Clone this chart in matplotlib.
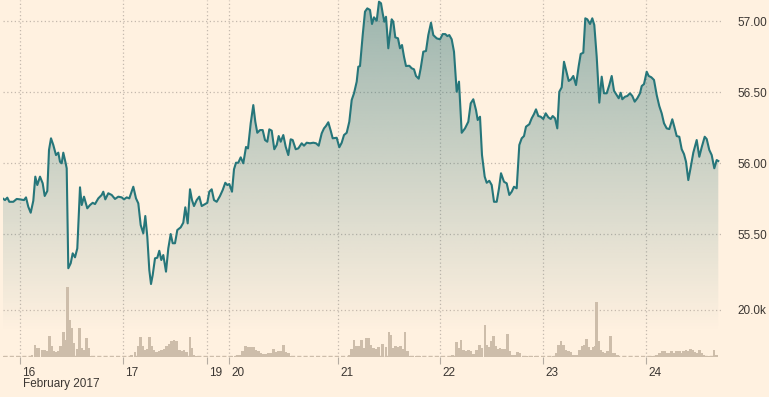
import numpy as np
import matplotlib
matplotlib.use("Agg")
import matplotlib.pyplot as plt
from matplotlib.transforms import ScaledTranslation
from matplotlib.patches import Polygon

# ---------------- data ----------------
# trading-time position (compressed intraday axis) and price
t = [2.7, 5, 7.3, 9.3, 13.3, 16.7, 20, 24, 26, 28.3, 30.7, 33.3, 35.3, 37.3, 40, 42.7, 44.7, 47.3,
     49, 51, 53.3, 56, 58.3, 60, 61.7, 63.3, 65.7, 66.7, 68.3, 70.7, 72.7, 75, 77.3, 80, 81.7, 84,
     87.3, 90, 92.7, 95, 98.3, 101.7, 103.3, 105.3, 108.3, 111.7, 115, 118.3, 121.7, 124,
     126.7, 129.3, 133.3, 136, 138.3, 140.7, 143.3, 145.3, 147.3, 149.3, 151, 152.7, 155, 157.3,
     159.3, 161.3, 163.3, 166, 168.3, 170.7, 172.7, 175, 177.3, 180.7, 183.3, 185.3, 187.7, 190,
     192, 194, 196.7, 199.3, 201.7, 205, 207.3, 209.3, 211.7, 214, 216.7, 220, 222.7, 225.3, 227.3,
     229.3, 232, 234, 236, 238.3, 240.7, 243.3, 246, 248, 250.7, 253.3, 255.3, 257.3, 260, 262.7,
     265, 267.3, 269.3, 271.7, 274.3, 276.7, 278.7, 280.7, 283.3, 285.7, 288.3, 290.7, 292.7,
     295.7, 298.3, 301.7, 304, 306.7, 310, 313.3, 316, 318.7, 321.7, 324, 326, 328.3, 330.7, 332.7,
     336.7, 339.3, 341.7, 344, 346.7, 349.3, 351.7, 354, 356.7, 358.3, 360, 362.7, 365, 367.3, 370,
     372, 374, 376.7, 379, 381, 382.7, 384.3, 386, 388.3, 391.7, 393.3, 395.3, 398, 400, 402, 404,
     406, 409.3, 411.7, 414, 416, 418.7, 420.7, 423.3, 426, 428.3, 431, 433.3, 436.7, 440, 442.7,
     445.3, 447.3, 449.3, 451.7, 454, 456.7, 459, 461.7, 465, 468.3, 470.7, 473.3, 476, 477.7, 480,
     482, 484.7, 486.7, 489.3, 491.7, 494, 496.7, 499, 501, 504, 506.7, 509.3, 511.7, 514, 516.7,
     519.3, 521.7, 524, 526, 529.3, 531.7, 534, 536, 538.3, 540.7, 543.3, 545.7, 548.3, 550.7,
     552.7, 555, 557.3, 559.3, 561.7, 564, 566, 568.7, 571, 573.3, 576, 578.7, 580.7, 583.3, 585.3,
     587.3, 590, 592.3, 594.3, 596.7, 599.3, 601.7, 604, 606.7, 609.3, 611.7, 614, 616.7, 618.7,
     620.7, 622.3, 625, 627.3, 630, 632.3, 634.7, 637.3, 640, 641.7, 644, 646.7, 648.7, 651.3, 654,
     656.7, 659.3, 661.7, 664, 666.7, 669.3, 672.3, 674.3, 676.7, 679.3, 681.7, 684, 686, 688.3,
     690.7, 693.3, 696.7, 699.3, 701.7, 704.7, 706.7, 709.3, 711.7, 714.3, 716.7, 718.3]
price = [55.751, 55.739, 55.756, 55.727, 55.727, 55.747, 55.744, 55.739, 55.758, 55.692, 55.650,
         55.734, 55.904, 55.845, 55.904, 55.857, 55.768, 55.803, 56.092, 56.174, 56.127, 56.056,
         56.073, 56.009, 55.998, 56.073, 55.998, 55.963, 55.259, 55.294, 55.364, 55.336, 55.399,
         55.829, 55.704, 55.763, 55.681, 55.704, 55.720, 55.711, 55.751, 55.775, 55.798, 55.744,
         55.787, 55.775, 55.747, 55.763, 55.758, 55.744,
         55.758, 55.751, 55.833, 55.751, 55.716, 55.563, 55.505, 55.627, 55.481, 55.247, 55.148,
         55.211, 55.329, 55.333, 55.382, 55.317, 55.352, 55.235, 55.399, 55.500, 55.435, 55.435,
         55.528, 55.547, 55.580, 55.688, 55.575, 55.815, 55.739, 55.697, 55.739, 55.763, 55.697,
         55.711, 55.720, 55.798, 55.815, 55.739, 55.727, 55.768, 55.810, 55.861, 55.845, 55.852,
         55.798, 55.956, 56.002, 56.002, 56.040, 55.998, 56.113, 56.103, 56.280, 56.408, 56.291,
         56.213, 56.232, 56.232, 56.162, 56.150, 56.237, 56.228, 56.097, 56.127, 56.190, 56.150,
         56.197, 56.115, 56.056, 56.167, 56.162, 56.097, 56.103, 56.139, 56.122, 56.143, 56.139,
         56.143, 56.139, 56.122, 56.209, 56.244, 56.261, 56.287, 56.228, 56.174, 56.178, 56.111,
         56.143, 56.197, 56.213, 56.291, 56.444, 56.491, 56.573, 56.678, 56.683, 56.901, 57.066,
         57.089, 57.078, 56.979, 57.026, 57.002, 57.136, 57.125, 57.054, 56.995, 57.030, 56.808,
         57.012, 56.995, 56.885, 56.878, 56.808, 56.831, 56.749, 56.683, 56.685, 56.667, 56.660,
         56.613, 56.594, 56.667, 56.784, 56.789, 56.901, 56.988, 56.901, 56.878, 56.871, 56.908,
         56.908, 56.894, 56.901, 56.871, 56.784, 56.502, 56.573, 56.213, 56.244, 56.291, 56.420,
         56.449, 56.373, 56.303, 56.326, 56.056, 55.904, 55.861, 55.875, 55.845, 55.727, 55.727,
         55.822, 55.928, 55.868, 55.857, 55.775, 55.798, 55.833, 55.822, 56.127, 56.174, 56.190,
         56.256, 56.273, 56.315, 56.345, 56.378, 56.331, 56.326, 56.310, 56.350, 56.322, 56.310,
         56.331, 56.315, 56.244, 56.502, 56.533, 56.713, 56.655, 56.578, 56.589, 56.613, 56.549,
         56.683, 56.768, 56.777, 57.019, 57.012, 56.979, 57.019, 56.972, 56.749, 56.425, 56.608,
         56.491, 56.491, 56.549, 56.613, 56.509, 56.479, 56.456, 56.495, 56.449, 56.467, 56.472,
         56.491, 56.472, 56.432, 56.456, 56.491, 56.542, 56.556, 56.643, 56.613, 56.604, 56.585,
         56.479, 56.401, 56.350, 56.280, 56.244, 56.239, 56.308, 56.256, 56.190, 56.185, 56.097,
         56.063, 56.009, 55.880, 55.970, 56.073, 56.162, 56.044, 56.111, 56.185, 56.169, 56.092,
         56.056, 55.963, 56.021, 56.014]

vol_t = [3.3, 32, 35, 36.7, 39, 42.7, 45, 47.3, 49.3, 51.7, 53.3, 56, 58.3, 60.7, 63.3, 65, 67.7,
         70, 71.7, 74, 77.3, 79.3, 81.7, 84, 86.7, 88.3, 91.7,
         131.7, 135, 138.3, 140.7, 142.7, 145, 147.3, 149.3, 151.7, 154, 156.7, 159.3, 161.7, 164,
         166.7, 169.3, 171.7, 174, 176.7, 179.3, 181.7, 184, 186.7, 190, 191.7, 194, 196.7,
         231.7, 235, 237.3, 240, 242.7, 245.7, 248.3, 250.7, 253.3, 256, 258.3, 260.7, 263.3, 266,
         268.3, 270.7, 273.3, 276, 278.3, 280.7, 283.3, 286, 288.3, 290.7,
         349.3, 351.7, 354, 356.7, 359, 361.7, 364, 366.7, 368.3, 370.7, 373.3, 376, 378.3,
         382.7, 386, 389, 391, 393.3, 395.7, 397.7, 400.7, 402.7, 405, 407.3, 410, 412.7, 416, 420,
         425, 450, 452.7, 456.7, 458.7, 461, 463.3, 465.7, 468.3, 471, 473.3, 476.7, 479.3, 481.7,
         485, 486.7, 489, 491, 493.3, 495.7, 497.7, 500, 502.7, 505, 507.7, 510, 512.7, 515, 517.3,
         520, 523.3, 526.7, 531.7, 535, 553.3, 556, 558.3, 561, 563.3, 566, 568.3, 570.7, 573.3,
         576.7, 579.3, 582.3, 584.3, 586.7, 589, 591, 593.3, 595, 596.7, 598.3, 600.7, 602.7, 605,
         607.3, 610.7, 612.7, 615, 617.3, 649.3, 651.7, 654, 656.7, 659.3, 662.7, 665, 667.3,
         669.3, 671.7, 674, 676.7, 679.3, 681.7, 683.3, 686, 688.3, 690.7, 692.7, 695, 697.3,
         699.3, 701.7, 704, 706.7, 709.3, 711.7, 714, 716.7]
volume = [600, 1000, 5200, 3800, 3800, 2800, 3100, 2400, 9000, 4500, 2400, 2000, 2400, 4800,
          10800, 7300, 29900, 15800, 12300, 5900, 3400, 12500, 3800, 3100, 8000, 3800, 600,
          1000, 2000, 4500, 8700, 4500, 3100, 3400, 8300, 4500, 3100, 2000, 2400, 2800, 3400,
          4500, 5600, 6600, 7300, 7000, 3100, 2700, 3100, 2000, 8700, 3800, 1000, 600,
          600, 600, 1000, 1000, 2400, 4800, 4200, 4200, 4200, 2800, 2400, 1700, 1400, 1400,
          1700, 1700, 3500, 2000, 2400, 2400, 5200, 2000, 1700, 600,
          1000, 3400, 7300, 4500, 4800, 7300, 3800, 8000, 8000, 5200, 3800, 3400, 4200,
          5600, 4200, 10800, 9400, 3800, 4800, 4200, 4800, 3400, 10800, 2400, 600, 300, 600, 300,
          600, 600, 1000, 6200, 3800, 7300, 3100, 2400, 2800, 2400, 1400, 3100, 5200, 3800,
          13700, 5200, 4200, 6600, 9000, 4500, 3400, 3800, 3400, 3400, 9900, 2400, 1000, 1000, 2000,
          1700, 600, 600, 600, 300, 600, 1700, 5200, 6600, 5200, 2800, 2400, 2000, 1000,
          1000, 3100, 4500, 5200, 7600, 4200, 3100, 4200, 4800, 23200, 6600, 3100, 2000, 1700,
          2400, 9000, 1700, 1700, 1000, 300, 600, 300, 1000, 1700, 2700, 2400, 1700,
          1700, 2400, 1700, 2400, 2400, 1700, 2400, 2800, 2400, 3500, 2800, 2100, 1700,
          2800, 1700, 1000, 600, 600, 600, 2800, 1000]

day_ticks = [20, 123, 207, 229, 338, 440, 543, 646]
day_labels = ["16", "17", "19", "20", "21", "22", "23", "24"]
price_ticks = [55.5, 56.0, 56.5, 57.0]
vol_ticks = [20000]
vol_tick_labels = ["20.0k"]
month_label = "February 2017"

# ---------------- style ----------------
BG = "#fff1e0"
LINE = "#26767a"
FILL_RGB = (38 / 255, 110 / 255, 115 / 255)
BAR = "#cdbdaa"
GRID = "#c4b9ad"
TXT = "#3b3632"
plt.rcParams["font.family"] = ["Liberation Sans", "DejaVu Sans"]

W, H = 769, 397
fig = plt.figure(figsize=(W / 100, H / 100), dpi=100, facecolor=BG)
pos = [3 / W, 40 / H, 719 / W, 357 / H]
ax = fig.add_axes(pos)
ax.set_facecolor(BG)
x0, x1 = 3, 722
ylo, yhi = 54.634, 57.148
ax.set_xlim(x0, x1)
ax.set_ylim(ylo, yhi)

# gradient fill under the line
ny = 400
frac = np.linspace(0, 1, ny)[:, None]  # 0 at top
alpha = np.clip(0.46 * (1 - frac / 0.93), 0, None)
img = np.zeros((ny, 2, 4))
img[..., 0], img[..., 1], img[..., 2] = FILL_RGB
img[..., 3] = alpha
im = ax.imshow(img, extent=[x0, x1, ylo, yhi], aspect="auto", origin="upper", zorder=1,
               interpolation="bilinear")
poly = Polygon(list(zip(t, price)) + [(t[-1], ylo), (t[0], ylo)], closed=True,
               facecolor="none", edgecolor="none")
ax.add_patch(poly)
im.set_clip_path(poly)

ax.plot(t, price, color=LINE, lw=1.5, zorder=4, solid_joinstyle="round")

# grids
for p in price_ticks:
    ax.axhline(p, color=GRID, lw=0.9, ls=(0, (1, 2)), zorder=0.5)
for d in day_ticks:
    ax.axvline(d, color=GRID, lw=0.9, ls=(0, (1, 2)), zorder=0.5)

for s in ax.spines.values():
    s.set_visible(False)
ax.yaxis.tick_right()
ax.set_yticks(price_ticks)
ax.set_yticklabels([f"{p:.2f}" for p in price_ticks])
ax.tick_params(axis="y", length=0, pad=11, labelsize=8.5, labelcolor=TXT)

ax.set_xticks(day_ticks)
ax.set_xticklabels(day_labels, ha="left")
ax.tick_params(axis="x", direction="out", length=5, width=0.8, color="#b5aca2",
               labelsize=8.5, labelcolor=TXT, pad=2)
off = ScaledTranslation(2 / 100, 0, fig.dpi_scale_trans)
for lab in ax.get_xticklabels():
    lab.set_transform(lab.get_transform() + off)

# volume axes
axv = fig.add_axes(pos, sharex=ax)
axv.set_facecolor("none")
axv.set_ylim(0, 151900)
axv.bar(vol_t, volume, width=2.5, color=BAR, zorder=2, linewidth=0)
axv.axhline(350, xmin=0, xmax=(716 - x0) / (x1 - x0), color=BAR, lw=1.0,
            ls=(0, (3, 1.5)), zorder=1.5)
axv.axhline(20000, xmax=(729 - x0) / (x1 - x0), color=GRID, lw=0.9, ls=(0, (1, 2)), zorder=0.5)
for s in axv.spines.values():
    s.set_visible(False)
axv.yaxis.tick_right()
axv.set_yticks(vol_ticks)
axv.set_yticklabels(vol_tick_labels)
axv.tick_params(axis="y", length=0, pad=11, labelsize=8.5, labelcolor=TXT)
axv.tick_params(axis="x", bottom=False, labelbottom=False)

fig.text(23 / W, 1 - 384 / H, month_label, fontsize=8.5, color=TXT, ha="left", va="center")

fig.savefig("out.png", dpi=100, facecolor=BG)
